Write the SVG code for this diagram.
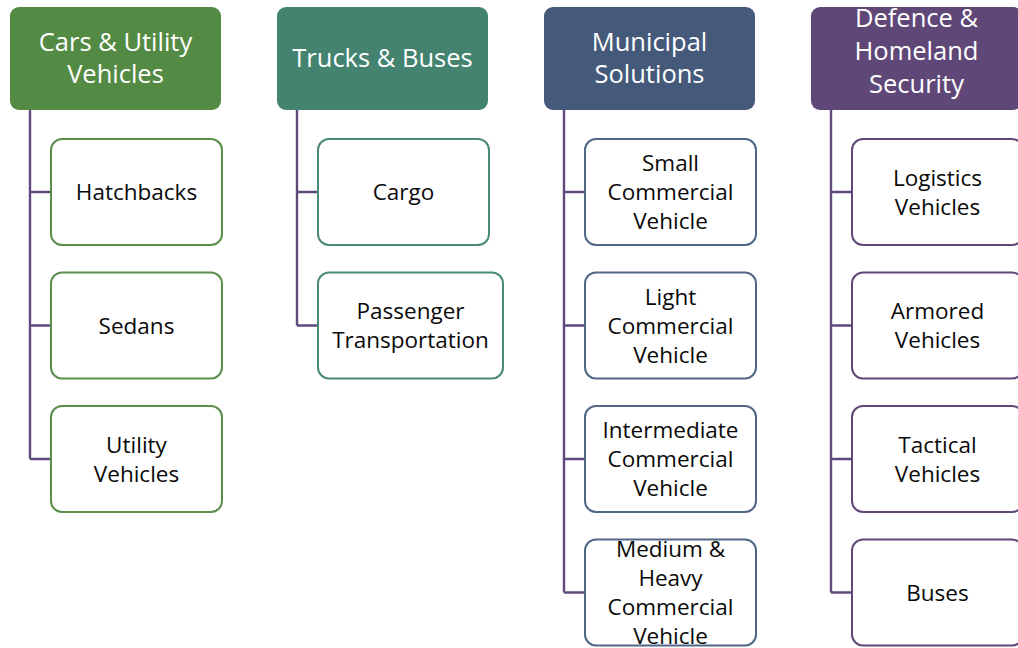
<svg xmlns="http://www.w3.org/2000/svg" width="1018" height="648" viewBox="0 0 1018 648">
  <style>
    .hdr text { font-family: "Open Sans", "Liberation Sans", sans-serif; font-size: 25.5px; fill: #ffffff; text-anchor: middle; }
    .item text { font-family: "Open Sans", "Liberation Sans", sans-serif; font-size: 22.5px; fill: #0a0a0a; text-anchor: middle; }
    .item rect { fill: #ffffff; stroke-width: 2; }
    .g1 .box { fill: #538a44; } .g1 rect.c { stroke: #5a8f4b; }
    .g2 .box { fill: #43836f; } .g2 rect.c { stroke: #4a8a76; }
    .g3 .box { fill: #45597b; } .g3 rect.c { stroke: #506686; }
    .g4 .box { fill: #5f4878; } .g4 rect.c { stroke: #5f4878; }
    #connectors path { fill: none; stroke: #604a7d; stroke-width: 2.4; }
  </style>
  <rect width="1018" height="648" fill="#ffffff"/>

  <!-- tree connectors -->
  <g id="connectors">
    <path d="M30 110 V459 M30 192 H51 M30 325.5 H51 M30 459 H51"/>
    <path d="M297 110 V325.5 M297 192 H318 M297 325.5 H318"/>
    <path d="M564 110 V592.5 M564 192 H585 M564 325.5 H585 M564 459 H585 M564 592.5 H585"/>
    <path d="M831 110 V592.5 M831 192 H852 M831 325.5 H852 M831 459 H852 M831 592.5 H852"/>
  </g>

  <!-- column 1 -->
  <g id="cars-utility" class="hdr g1">
    <rect class="box" x="10" y="7" width="211" height="103" rx="9"/>
    <text x="115.5" y="51">Cars &amp; Utility</text>
    <text x="115.5" y="83">Vehicles</text>
  </g>
  <g id="hatchbacks" class="item g1">
    <rect class="c" x="51" y="139" width="171" height="106" rx="11"/>
    <text x="136.5" y="200">Hatchbacks</text>
  </g>
  <g id="sedans" class="item g1">
    <rect class="c" x="51" y="272.5" width="171" height="106" rx="11"/>
    <text x="136.5" y="333.5">Sedans</text>
  </g>
  <g id="utility-vehicles" class="item g1">
    <rect class="c" x="51" y="406" width="171" height="106" rx="11"/>
    <text x="136.5" y="452.5">Utility</text>
    <text x="136.5" y="481.5">Vehicles</text>
  </g>

  <!-- column 2 -->
  <g id="trucks-buses" class="hdr g2">
    <rect class="box" x="277" y="7" width="211" height="103" rx="9"/>
    <text x="382.5" y="67">Trucks &amp; Buses</text>
  </g>
  <g id="cargo" class="item g2">
    <rect class="c" x="318" y="139" width="171" height="106" rx="11"/>
    <text x="403.5" y="200">Cargo</text>
  </g>
  <g id="passenger-transportation" class="item g2">
    <rect class="c" x="318" y="272.5" width="185" height="106" rx="11"/>
    <text x="410.5" y="319">Passenger</text>
    <text x="410.5" y="348">Transportation</text>
  </g>

  <!-- column 3 -->
  <g id="municipal-solutions" class="hdr g3">
    <rect class="box" x="544" y="7" width="211" height="103" rx="9"/>
    <text x="649.5" y="51">Municipal</text>
    <text x="649.5" y="83">Solutions</text>
  </g>
  <g id="small-commercial" class="item g3">
    <rect class="c" x="585" y="139" width="171" height="106" rx="11"/>
    <text x="670.5" y="171">Small</text>
    <text x="670.5" y="200">Commercial</text>
    <text x="670.5" y="229">Vehicle</text>
  </g>
  <g id="light-commercial" class="item g3">
    <rect class="c" x="585" y="272.5" width="171" height="106" rx="11"/>
    <text x="670.5" y="304.5">Light</text>
    <text x="670.5" y="333.5">Commercial</text>
    <text x="670.5" y="362.5">Vehicle</text>
  </g>
  <g id="intermediate-commercial" class="item g3">
    <rect class="c" x="585" y="406" width="171" height="106" rx="11"/>
    <text x="670.5" y="438">Intermediate</text>
    <text x="670.5" y="467">Commercial</text>
    <text x="670.5" y="496">Vehicle</text>
  </g>
  <g id="medium-heavy-commercial" class="item g3">
    <rect class="c" x="585" y="539.5" width="171" height="106" rx="11"/>
    <text x="670.5" y="557">Medium &amp;</text>
    <text x="670.5" y="586">Heavy</text>
    <text x="670.5" y="615">Commercial</text>
    <text x="670.5" y="644">Vehicle</text>
  </g>

  <!-- column 4 -->
  <g id="defence-homeland" class="hdr g4">
    <rect class="box" x="811" y="7" width="211" height="103" rx="9"/>
    <text x="916.5" y="27">Defence &amp;</text>
    <text x="916.5" y="60">Homeland</text>
    <text x="916.5" y="93">Security</text>
  </g>
  <g id="logistics-vehicles" class="item g4">
    <rect class="c" x="852" y="139" width="171" height="106" rx="11"/>
    <text x="937.5" y="185.5">Logistics</text>
    <text x="937.5" y="214.5">Vehicles</text>
  </g>
  <g id="armored-vehicles" class="item g4">
    <rect class="c" x="852" y="272.5" width="171" height="106" rx="11"/>
    <text x="937.5" y="319">Armored</text>
    <text x="937.5" y="348">Vehicles</text>
  </g>
  <g id="tactical-vehicles" class="item g4">
    <rect class="c" x="852" y="406" width="171" height="106" rx="11"/>
    <text x="937.5" y="452.5">Tactical</text>
    <text x="937.5" y="481.5">Vehicles</text>
  </g>
  <g id="buses" class="item g4">
    <rect class="c" x="852" y="539.5" width="171" height="106" rx="11"/>
    <text x="937.5" y="600.5">Buses</text>
  </g>
</svg>
